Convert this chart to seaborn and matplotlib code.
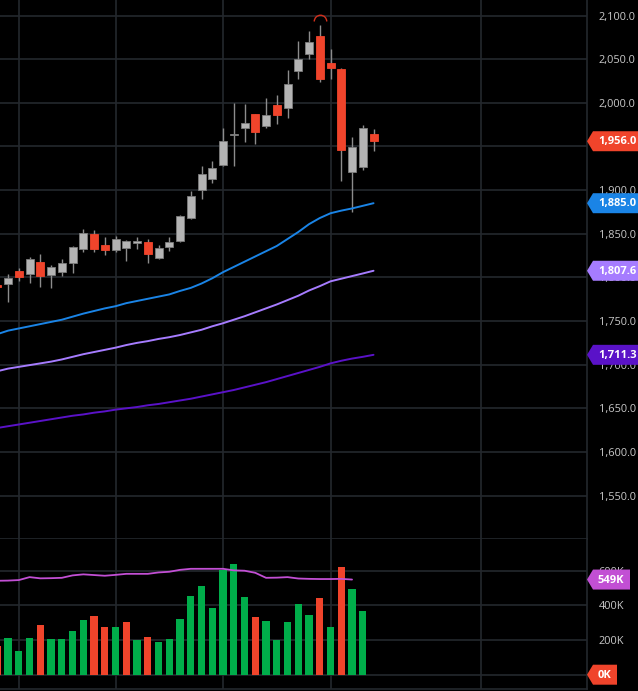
import numpy as np
import pandas as pd
import seaborn as sns
import matplotlib.pyplot as plt
from matplotlib.patches import Polygon
from matplotlib.path import Path
from matplotlib.transforms import IdentityTransform
from matplotlib.ticker import FuncFormatter

# ---- data (index 0 is the half hidden bar at the left edge)
opens = [1791, 1792, 1807.7, 1803.5, 1817.6, 1802.4, 1806.5, 1817, 1832, 1849.7,
         1837, 1831.4, 1834, 1839.8, 1841, 1822, 1835.2, 1841.7, 1867.7, 1900,
         1912.4, 1928.8, 1963.5, 1971.5, 1986.8, 1973.4, 1997.5, 1993.7, 2036.8, 2055.6,
         2077, 2045.2, 2038.7, 1921, 1926.8, 1964]
highs = [1792.5, 1803.5, 1810.5, 1823, 1827, 1814, 1820.7, 1835.5, 1856, 1854.3,
         1846, 1847.4, 1843, 1846.6, 1843.6, 1837, 1846.6, 1871, 1899, 1927.6,
         1933.3, 1971.5, 2000, 1998.6, 1987.5, 2005.2, 2009, 2037.6, 2070.8, 2082.2,
         2089, 2061.3, 2040.2, 1961.2, 1974.6, 1970]
lows = [1788, 1772, 1796, 1794, 1789.5, 1788, 1801.6, 1804.7, 1829.5, 1829.4,
        1825.7, 1829.4, 1819, 1832.2, 1816.8, 1820.7, 1830.6, 1840, 1866.5, 1890,
        1907.8, 1928, 1927.6, 1955.4, 1952.5, 1971.5, 1975.4, 1983, 2027.3, 2049.8,
        2024.2, 2027.3, 1910.4, 1874.6, 1923, 1945]
closes = [1789.5, 1799, 1800, 1820.7, 1802, 1812.3, 1816, 1834.5, 1850.5, 1832.5,
          1831.4, 1843.6, 1841.7, 1841.7, 1826.4, 1834, 1840.2, 1870.3, 1893.2, 1918,
          1925.7, 1956.2, 1964.5, 1977.2, 1966.6, 1986, 1986.2, 2021.2, 2049.8, 2070,
          2027.3, 2039.5, 1946, 1949.7, 1970.8, 1956]

ma_fast = [1735, 1739, 1741.5, 1744, 1746.5, 1749, 1751.5, 1755, 1758.5, 1761.5,
           1764.5, 1767, 1770.5, 1773, 1775.5, 1778, 1780.5, 1784.5, 1788, 1793,
           1799, 1806, 1812, 1818, 1824, 1830, 1836, 1844, 1852, 1861,
           1868, 1873.5, 1876.5, 1879, 1882, 1885]
ma_mid = [1692.5, 1695.5, 1697.5, 1699.5, 1701.5, 1703.5, 1706, 1709, 1712, 1714.5,
          1717, 1719.5, 1722.5, 1725, 1727, 1729.5, 1731.5, 1734, 1737, 1740,
          1744, 1747.5, 1751.5, 1755.5, 1760, 1764.5, 1769, 1774, 1779, 1785,
          1790, 1795.5, 1798.5, 1801.5, 1804.5, 1807.6]
ma_slow = [1627.5, 1629.5, 1631.5, 1633.5, 1635.5, 1637.5, 1639.5, 1641.5, 1643, 1645,
           1646.5, 1648.5, 1650, 1651.5, 1653.5, 1655, 1657, 1659, 1661, 1663.5,
           1666, 1668.5, 1671, 1674, 1677, 1680, 1683.5, 1687, 1690.5, 1694,
           1697.5, 1701.5, 1704.5, 1707, 1709, 1711.3]

volume_k = [165, 210, 137, 213, 286, 204, 206, 250, 317, 340,
            273, 273, 305, 200, 219, 188, 204, 319, 452, 513,
            386, 607, 638, 446, 331, 308, 200, 304, 406, 344,
            442, 275, 621, 494, 367]
volume_ma_k = [542, 543, 546, 563, 556, 557, 559, 573, 579, 575,
               571, 576, 582, 582, 582, 590, 594, 605, 611, 611,
               611, 611, 602, 600, 588, 559, 560, 563, 555, 553,
               552, 552, 553, 549]

period_breaks = [2, 11, 21, 31, 45]

# ---- colours
BG = "#000000"
GRID = "#24282d"
UP = "#b4b4b4"
UP_EDGE = "#7c7c7c"
DOWN = "#f0442b"
WICK = "#8c8c8c"
VOL_UP = "#00ad4a"
TXT = "#c8c8c8"

sns.set_theme(style="dark", rc={"axes.facecolor": BG, "figure.facecolor": BG})
plt.rcParams["font.family"] = ["Open Sans", "DejaVu Sans"]

candles = pd.DataFrame({"open": opens, "high": highs, "low": lows, "close": closes})
candles["i"] = np.arange(len(candles))
candles["up"] = candles["close"] >= candles["open"]

vol = pd.DataFrame({"i": np.arange(len(volume_k)), "v": np.array(volume_k) * 1000.0})
prev_close = candles["close"].shift(1).fillna(candles["open"])
vol["up"] = (candles["close"] >= prev_close).values[: len(vol)]
vol_ma = pd.DataFrame({"i": np.arange(len(volume_ma_k)), "v": np.array(volume_ma_k) * 1000.0})

W, H = 638, 691
fig = plt.figure(figsize=(W / 100, H / 100), dpi=100)
axis_x = 587
ax = fig.add_axes([0, 1 - 539 / H, axis_x / W, 539 / H])
axv = fig.add_axes([0, 1 - 689 / H, axis_x / W, 150 / H])

for a in (ax, axv):
    a.set_facecolor(BG)
    a.set_xlim(0.25, 54.86)
    a.set_xticks(period_breaks)
    a.tick_params(axis="x", length=0, labelbottom=False)
    a.grid(True, color=GRID, linewidth=1.2)
    a.set_axisbelow(True)
    for s in ("left", "top"):
        a.spines[s].set_visible(False)
    for s in ("right", "bottom"):
        a.spines[s].set_color(GRID)
        a.spines[s].set_linewidth(1.2)
    a.yaxis.tick_right()
    a.tick_params(axis="y", length=0, pad=8.5, labelsize=7.9, labelcolor=TXT)

# ---- price panel
ax.set_ylim(1500.3, 2117.8)
ax.set_yticks(np.arange(1550, 2101, 50))
ax.yaxis.set_major_formatter(FuncFormatter(lambda v, p: f"{v:,.1f}"))

ax.vlines(candles["i"], candles["low"], candles["high"], color=WICK, linewidth=1.0, zorder=2)
body_lo = candles[["open", "close"]].min(axis=1)
body_h = (candles["close"] - candles["open"]).abs().clip(lower=0.9)
ax.bar(candles["i"], body_h, bottom=body_lo, width=0.74,
       color=np.where(candles["up"], UP, DOWN),
       edgecolor=np.where(candles["up"], UP_EDGE, DOWN), linewidth=0.6, zorder=3)

top = candles["high"].idxmax()
ax.plot(top, candles["high"][top] + 5, marker=Path.arc(0, 180), markersize=9,
        markerfacecolor="none", markeredgecolor="#d2301c", markeredgewidth=1.0,
        linestyle="none", zorder=4)

ma_df = pd.DataFrame({"i": candles["i"], "fast": ma_fast, "mid": ma_mid, "slow": ma_slow})
ma_colors = {"fast": "#1a84e6", "mid": "#a67cff", "slow": "#5a12c8"}
for name, col in ma_colors.items():
    sns.lineplot(data=ma_df, x="i", y=name, ax=ax, color=col, linewidth=1.4, zorder=2.5)
ax.set_xlabel("")
ax.set_ylabel("")

# ---- volume panel
axv.set_ylim(-82500, 783000)
axv.set_yticks([0, 200000, 400000, 600000])
axv.yaxis.set_major_formatter(FuncFormatter(lambda v, p: f"{int(v / 1000)}K"))
axv.bar(vol["i"], vol["v"], width=0.68,
        color=np.where(vol["up"], VOL_UP, DOWN), linewidth=0, zorder=2)
sns.lineplot(data=vol_ma, x="i", y="v", ax=axv, color="#c24fd4", linewidth=1.3, zorder=3)
axv.set_xlabel("")
axv.set_ylabel("")


# ---- value badges on the right scale
def badge(a, value, text, color, width=60):
    yc = a.transData.transform((1, value))[1]
    x0 = axis_x
    pts = [(x0, yc), (x0 + 6, yc + 10), (x0 + width, yc + 10),
           (x0 + width, yc - 10), (x0 + 6, yc - 10)]
    fig.add_artist(Polygon(pts, closed=True, facecolor=color, edgecolor="none",
                           transform=IdentityTransform(), zorder=10))
    fig.text(x0 + 11, yc - 0.5, text, transform=IdentityTransform(), color="white",
             fontsize=8, fontweight="bold", ha="left", va="center", zorder=11)


badge(ax, closes[-1], f"{closes[-1]:,.1f}", DOWN)
badge(ax, ma_fast[-1], f"{ma_fast[-1]:,.1f}", ma_colors["fast"])
badge(ax, ma_mid[-1], f"{ma_mid[-1]:,.1f}", ma_colors["mid"])
badge(ax, ma_slow[-1], f"{ma_slow[-1]:,.1f}", ma_colors["slow"])
badge(axv, volume_ma_k[-1] * 1000, f"{volume_ma_k[-1]}K", "#c24fd4", width=43)
badge(axv, 0, "0K", DOWN, width=30)

fig.savefig("out.png", dpi=100, facecolor=BG)
